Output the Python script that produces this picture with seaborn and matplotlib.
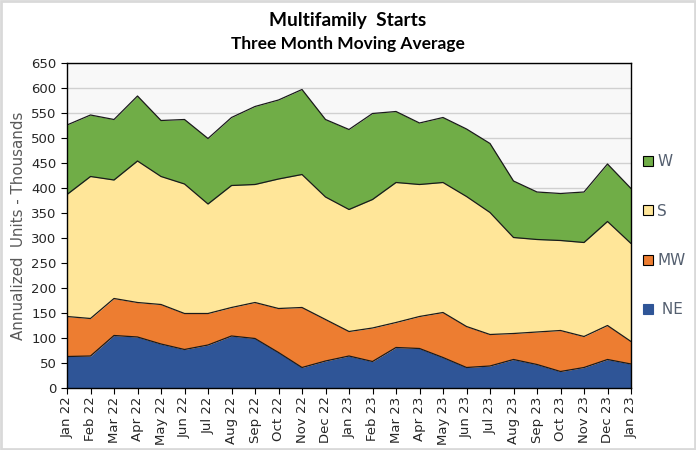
import matplotlib
matplotlib.use("Agg")
import matplotlib.pyplot as plt
from matplotlib.patches import Patch
import seaborn as sns
import numpy as np
import pandas as pd

months = ["Jan 22", "Feb 22", "Mar 22", "Apr 22", "May 22", "Jun 22", "Jul 22", "Aug 22",
          "Sep 22", "Oct 22", "Nov 22", "Dec 22", "Jan 23", "Feb 23", "Mar 23", "Apr 23",
          "May 23", "Jun 23", "Jul 23", "Aug 23", "Sep 23", "Oct 23", "Nov 23", "Dec 23", "Jan 23"]

# cumulative tops
ne_top = [63, 64, 105, 102, 88, 77, 86, 104, 99, 71, 41, 54, 64, 53, 81, 79, 61, 41, 44, 57, 47, 33, 41, 57, 48]
mw_top = [143, 139, 179, 171, 167, 149, 149, 161, 171, 159, 161, 137, 113, 120, 131, 143, 151, 123, 107, 109, 112, 115, 103, 125, 93]
s_top = [387, 423, 416, 454, 423, 408, 368, 405, 407, 418, 427, 382, 357, 377, 411, 407, 411, 383, 351, 301, 297, 295, 291, 333, 289]
w_top = [526, 546, 537, 584, 535, 537, 499, 541, 563, 576, 597, 537, 517, 549, 553, 530, 541, 518, 489, 414, 392, 389, 392, 448, 399]

NE = list(np.array(ne_top))
MW = list(np.array(mw_top) - np.array(ne_top))
S = list(np.array(s_top) - np.array(mw_top))
W = list(np.array(w_top) - np.array(s_top))

colors = {"NE": "#2F5597", "MW": "#ED7D31", "S": "#FFE699", "W": "#70AD47"}

sns.set_theme(style="white")
plt.rcParams["font.family"] = ["DejaVu Sans"]

fig = plt.figure(figsize=(6.96, 4.5), dpi=100)
ax = fig.add_axes([67/696, 1 - 388/450, (631-67)/696, (388-63)/450])

x = np.arange(len(months))
df = pd.DataFrame({"x": x, "NE": NE, "MW": MW, "S": S, "W": W})
ax.set_facecolor("#F8F8F8")
for v in range(50, 651, 50):
    ax.axhline(v, color="#D0D0D0", lw=1.0, zorder=0)

ax.stackplot(df["x"], df["NE"], df["MW"], df["S"], df["W"],
             colors=[colors[k] for k in ["NE", "MW", "S", "W"]], zorder=2, lw=0)
cum = df[["NE", "MW", "S", "W"]].cumsum(axis=1)
for k in ["NE", "MW", "S", "W"]:
    sns.lineplot(x=df["x"], y=cum[k], ax=ax, color="#1a1a1a", lw=0.9, zorder=3)

ax.set_xlim(0, len(months) - 1)
ax.set_ylim(0, 650)
ax.set_yticks(range(0, 651, 50))
ax.set_xticks(x)
ax.set_xticklabels(months, rotation=90, fontsize=9.5, color="#262626")
ax.tick_params(axis="y", labelsize=9.5, labelcolor="#262626", length=4, width=0.8, color="black", direction="out", left=True)
ax.tick_params(axis="x", length=4, width=0.8, color="black", direction="out", bottom=True, pad=2)
ax.set_xlabel("")
ax.set_ylabel("Annualized  Units - Thousands", fontsize=10.8, color="#595959", labelpad=4)
for sp in ax.spines.values():
    sp.set_color("black")
    sp.set_linewidth(1.0)
    sp.set_zorder(5)

handles = [Patch(facecolor=colors["W"], edgecolor="black", lw=0.8, label="W"),
           Patch(facecolor=colors["S"], edgecolor="black", lw=0.8, label="S"),
           Patch(facecolor=colors["MW"], edgecolor="black", lw=0.8, label="MW"),
           Patch(facecolor=colors["NE"], edgecolor=colors["NE"], lw=0.8, label=" NE")]
leg = ax.legend(handles=handles, loc="center left", bbox_to_anchor=(1.008, 0.468),
                frameon=False, fontsize=11, labelspacing=2.25, handlelength=0.62,
                handleheight=0.62, handletextpad=0.3, borderpad=0)
for t in leg.get_texts():
    t.set_color("#556070")

fig.text(0.5, 1 - 26/450, "Multifamily  Starts", ha="center", va="baseline",
         fontsize=13.8, fontweight="bold", family=["Lato", "DejaVu Sans"], color="black")
fig.text(0.5, 1 - 49/450, "Three Month Moving Average", ha="center", va="baseline",
         fontsize=12.5, fontweight="bold", family=["Lato", "DejaVu Sans"], color="black")

border = plt.Rectangle((0.0015, 0.002), 0.997, 0.996, transform=fig.transFigure,
                       fill=False, edgecolor="#D9D9D9", lw=2)
fig.patches.append(border)

fig.savefig("out.png", dpi=100)
